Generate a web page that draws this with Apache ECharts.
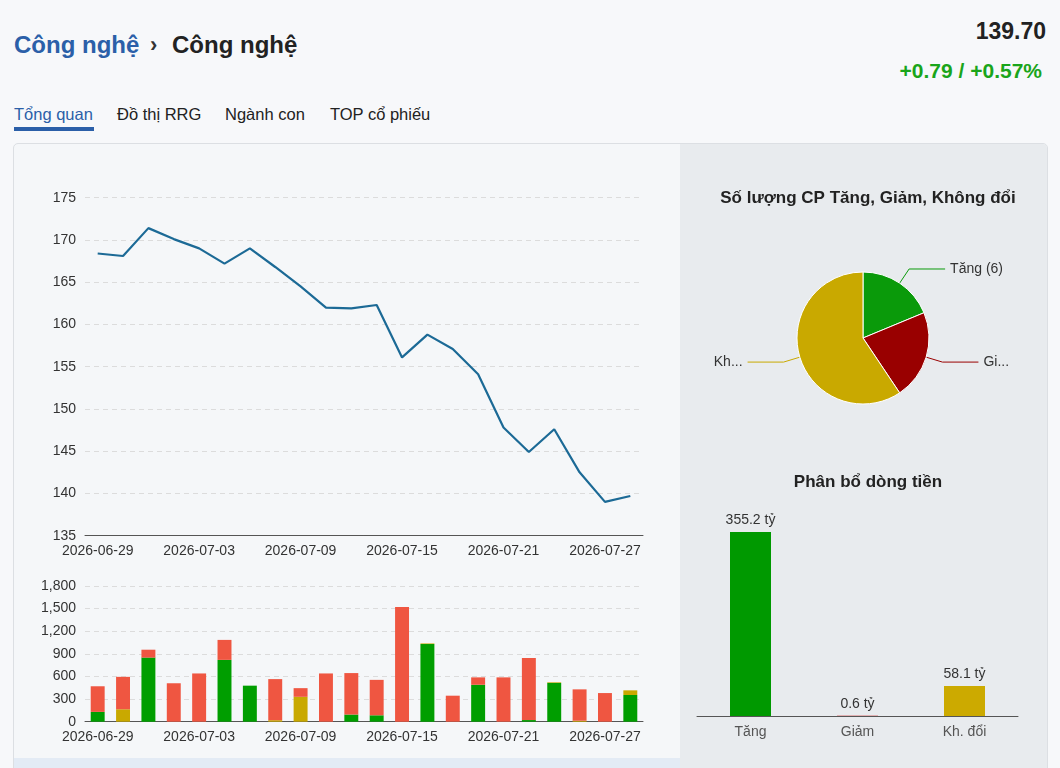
<!DOCTYPE html>
<html><head><meta charset="utf-8">
<script src="https://cdn.jsdelivr.net/npm/echarts@6/dist/echarts.min.js"></script>
<style>
html,body{margin:0;padding:0;width:1060px;height:768px;overflow:hidden;background:#f7f8fa;font-family:"Liberation Sans",Arial,Helvetica,sans-serif;}
.abs{position:absolute;white-space:nowrap;}
#panel{position:absolute;left:13px;top:143px;width:1033px;height:640px;border:1px solid #dcdfe3;border-radius:5px;background:#f5f7f9;overflow:hidden;}
#right{position:absolute;left:666px;top:0;width:367px;height:640px;background:#e8ebee;}
#band{position:absolute;left:0;top:614px;width:666px;height:30px;background:#e3ebf5;}
#chart{position:absolute;left:0;top:0;width:1060px;height:768px;}
</style></head>
<body>
<div class="abs" style="left:14px;top:31px;font-size:24px;font-weight:bold;color:#2b5fa8;">Công nghệ</div>
<div class="abs" style="left:150px;top:32px;font-size:22px;font-weight:bold;color:#333;">›</div>
<div class="abs" style="left:172px;top:31px;font-size:24px;font-weight:bold;color:#222;">Công nghệ</div>
<div class="abs" style="right:14px;top:18px;font-size:23px;font-weight:bold;color:#222;">139.70</div>
<div class="abs" style="right:18px;top:59px;font-size:21px;font-weight:bold;color:#1aa51a;">+0.79 / +0.57%</div>
<div class="abs" style="left:14px;top:105px;font-size:16.5px;color:#2b5fa8;">Tổng quan</div>
<div class="abs" style="left:14px;top:127px;width:80px;height:4px;background:#2b5fa8;"></div>
<div class="abs" style="left:117px;top:105px;font-size:16.5px;color:#222;">Đồ thị RRG</div>
<div class="abs" style="left:225px;top:105px;font-size:16.5px;color:#222;">Ngành con</div>
<div class="abs" style="left:330px;top:105px;font-size:16.5px;color:#222;">TOP cổ phiếu</div>
<div id="panel"><div id="right"></div><div id="band"></div></div>
<div id="chart"></div>
<script>
var dates = ['2026-06-29','2026-06-30','2026-07-01','2026-07-02','2026-07-03','2026-07-06','2026-07-07','2026-07-08','2026-07-09','2026-07-10','2026-07-13','2026-07-14','2026-07-15','2026-07-16','2026-07-17','2026-07-20','2026-07-21','2026-07-22','2026-07-23','2026-07-24','2026-07-27','2026-07-28'];
var closeVals = [168.4,168.1,171.4,170.1,169.0,167.2,169.0,166.8,164.5,162.0,161.9,162.3,156.1,158.8,157.1,154.1,147.8,144.9,147.6,142.5,139.0,139.7];
var upVals = [130,0,850,0,0,820,478,0,0,0,95,85,0,1030,0,490,0,22,515,0,0,354];
var flatVals = [0,165,0,0,0,0,0,20,330,0,0,0,0,8,0,0,0,0,8,13,0,62];
var downVals = [340,430,105,510,640,265,0,545,115,640,550,470,1520,0,345,98,588,823,0,416,380,0];
var pieNames = ['Tăng','Giảm','Không đổi'];
var pieCounts = [6,7,19];
var flowCats = ['Tăng','Giảm','Kh. đổi'];
var flowVals = [355.2,0.6,58.1];

var FONT = '"Liberation Sans", Arial, Helvetica, sans-serif';
var GREEN = '#009e00', RED = '#ef5641', YEL = '#c9a900';
var chart = echarts.init(document.getElementById('chart'), null, {renderer:'canvas'});
var xAxisCommon = {
  type:'category', data: dates, boundaryGap: true,
  axisLine:{lineStyle:{color:'#555',width:1}}, axisTick:{show:false},
  axisLabel:{interval:3, color:'#333', fontSize:14, fontFamily:FONT, margin:8}
};
var yAxisCommon = {
  type:'value', axisLine:{show:false}, axisTick:{show:false},
  splitLine:{lineStyle:{color:'#dcdcdc', type:[5,4]}},
  axisLabel:{color:'#333', fontSize:14, fontFamily:FONT, margin:9}
};
var pieColors = ['#0a9a0a','#990000','#c9a900'];
chart.setOption({
  animation:false,
  backgroundColor:'transparent',
  textStyle:{fontFamily:FONT},
  title:[
    {text:'Số lượng CP Tăng, Giảm, Không đổi', left:863, top:185, textAlign:'center',
     textStyle:{fontSize:17, fontWeight:'bold', color:'#222', fontFamily:FONT}},
    {text:'Phân bổ dòng tiền', left:863, top:469, textAlign:'center',
     textStyle:{fontSize:17, fontWeight:'bold', color:'#222', fontFamily:FONT}}
  ],
  grid:[
    {left:85, right:417, top:197.7, bottom:232.3, containLabel:false},
    {left:85, right:417, top:586, bottom:46.3, containLabel:false},
    {left:697, right:42, top:532, bottom:52, containLabel:false}
  ],
  xAxis:[
    Object.assign({gridIndex:0}, xAxisCommon),
    Object.assign({gridIndex:1}, xAxisCommon),
    {gridIndex:2, type:'category', data:flowCats, axisLine:{lineStyle:{color:'#555'}}, axisTick:{show:false},
     axisLabel:{color:'#555', fontSize:14, fontFamily:FONT, margin:9}}
  ],
  yAxis:[
    Object.assign({gridIndex:0, min:135, max:175, interval:5}, yAxisCommon),
    Object.assign({gridIndex:1, min:0, max:1800, interval:300}, yAxisCommon,
      {axisLabel:Object.assign({}, yAxisCommon.axisLabel, {formatter:function(v){return v.toLocaleString('en-US');}})}),
    {gridIndex:2, type:'value', min:0, max:'dataMax', show:false}
  ],
  series:[
    {type:'line', xAxisIndex:0, yAxisIndex:0, data:closeVals, symbol:'none',
     lineStyle:{color:'#1c6a96', width:2.2}},
    {type:'bar', xAxisIndex:1, yAxisIndex:1, stack:'v', data:upVals, barWidth:'55%', itemStyle:{color:GREEN}},
    {type:'bar', xAxisIndex:1, yAxisIndex:1, stack:'v', data:flatVals, barWidth:'55%', itemStyle:{color:YEL}},
    {type:'bar', xAxisIndex:1, yAxisIndex:1, stack:'v', data:downVals, barWidth:'55%', itemStyle:{color:RED}},
    {type:'pie', center:[863,338], radius:66, startAngle:90, clockwise:true,
     itemStyle:{borderColor:'#fff', borderWidth:1},
     label:{color:'#333', fontSize:14, fontFamily:FONT, formatter:'{b} ({c})', distanceToLabelLine:5},
     labelLine:{length:17, length2:36, smooth:false},
     data: pieNames.map(function(n,i){
       var d = {name:n, value:pieCounts[i], itemStyle:{color:pieColors[i]}};
       if(i>0){ d.label = {width:30, overflow:'truncate'}; }
       return d;
     })},
    {type:'bar', xAxisIndex:2, yAxisIndex:2, barWidth:41,
     data: flowVals.map(function(v,i){ return {value:v, itemStyle:{color:['#009900','#cc0000','#ccaa00'][i]}}; }),
     label:{show:true, position:'top', distance:5, color:'#333', fontSize:14, fontFamily:FONT,
       formatter:function(p){return p.value + ' tỷ';}}}
  ]
});
</script>
</body></html>
